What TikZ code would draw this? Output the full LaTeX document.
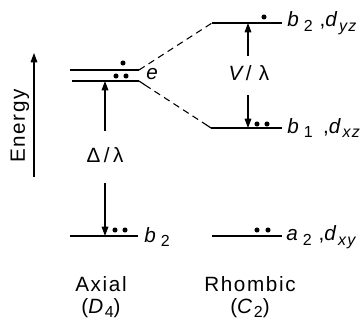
\documentclass[tikz,border=0pt]{standalone}
\usepackage{fontspec}
\setmainfont{Liberation Sans}[LetterSpace=8]
\usetikzlibrary{arrows.meta}
\newcommand{\lsub}[1]{\raisebox{-0.45ex}{\fontsize{12}{13}\selectfont #1}}
\begin{document}
\begin{tikzpicture}[x=0.75pt,y=-0.75pt,
  level/.style={line width=0.9pt},
  conn/.style={line width=0.8pt,dashed,dash pattern=on 5pt off 3.5pt},
  arr/.style={line width=0.8pt,-{Triangle[length=7pt,width=5pt]}},
  lab/.style={font=\fontsize{15.5}{17}\selectfont,inner sep=0pt},
  dot/.style={circle,fill,inner sep=0pt,minimum size=3.8pt}]
\useasboundingbox (0,0) rectangle (360,322);
% Energy axis
\coordinate (eb) at (34,177);
\coordinate (et) at (34,53);
\draw[arr] (eb) -- (et);
\node[lab,rotate=90] (energy) at (20,126) {Energy};
% axial levels
\coordinate (e1l) at (70,70); \coordinate (e1r) at (139,70);
\coordinate (e2l) at (72,81); \coordinate (e2r) at (139,81);
\draw[level] (e1l) -- (e1r);
\draw[level] (e2l) -- (e2r);
\coordinate (b2l) at (70,236); \coordinate (b2r) at (138,236);
\draw[level] (b2l) -- (b2r);
% rhombic levels
\coordinate (rb2l) at (212,23); \coordinate (rb2r) at (282,23);
\coordinate (rb1l) at (211,128); \coordinate (rb1r) at (282,128);
\coordinate (ra2l) at (212,236); \coordinate (ra2r) at (282,236);
\draw[level] (rb2l) -- (rb2r);
\draw[level] (rb1l) -- (rb1r);
\draw[level] (ra2l) -- (ra2r);
% correlation lines
\draw[conn] (e1r) -- (rb2l);
\coordinate (m1) at (145,85);
\coordinate (m2) at (205,124);
\draw[level] (e2r) -- (m1);
\draw[conn] (m1) -- (m2);
\draw[level] (m2) -- (rb1l);
% electrons
\node[dot] (d1) at (123,63) {};
\node[dot] (d2) at (116,76) {};
\node[dot] (d3) at (126,76) {};
\node[dot] (d4) at (115,230) {};
\node[dot] (d5) at (125,230) {};
\node[dot] (d6) at (264,17) {};
\node[dot] (d7) at (257,124) {};
\node[dot] (d8) at (267,124) {};
\node[dot] (d9) at (257,230) {};
\node[dot] (d10) at (268,230) {};
% gap arrows
\node[lab] (delta) at (105,155) {Δ\,/\,λ};
\coordinate (da) at (105,131);
\coordinate (db) at (105,183);
\coordinate (dat) at (105,81);
\coordinate (dbt) at (105,236);
\draw[arr] (da) -- (dat);
\draw[arr] (db) -- (dbt);
\node[lab] (vl) at (249,73) {\textit{V}/ λ};
\coordinate (va) at (248,56);
\coordinate (vb) at (248,95);
\coordinate (vat) at (248,23);
\coordinate (vbt) at (248,128);
\draw[arr] (va) -- (vat);
\draw[arr] (vb) -- (vbt);
% labels
\node[lab,anchor=west] (le) at (146,74) {\textit{e}};
\node[lab,anchor=west] (lb2) at (144,237) {\textit{b}\,\lsub{2}};
\node[lab,anchor=west] (lrb2) at (287,23) {\textit{b}\,\lsub{2}\,\,,\textit{d}\lsub{\textit{yz}}};
\node[lab,anchor=west] (lrb1) at (287,128) {\textit{b}\,\lsub{1}\,\,\,,\textit{d}\lsub{\textit{xz}}};
\node[lab,anchor=west] (lra2) at (286,237) {\textit{a}\,\lsub{2}\,\,,\textit{d}\lsub{\textit{xy}}};
\node[lab] (ax) at (101,284) {Axial};
\node[lab] (axg) at (101,308) {(\textit{D}\lsub{4})};
\node[lab] (rh) at (250,284) {Rhombic};
\node[lab] (rhg) at (250,308) {(\textit{C}\lsub{2})};
\end{tikzpicture}
\end{document}
